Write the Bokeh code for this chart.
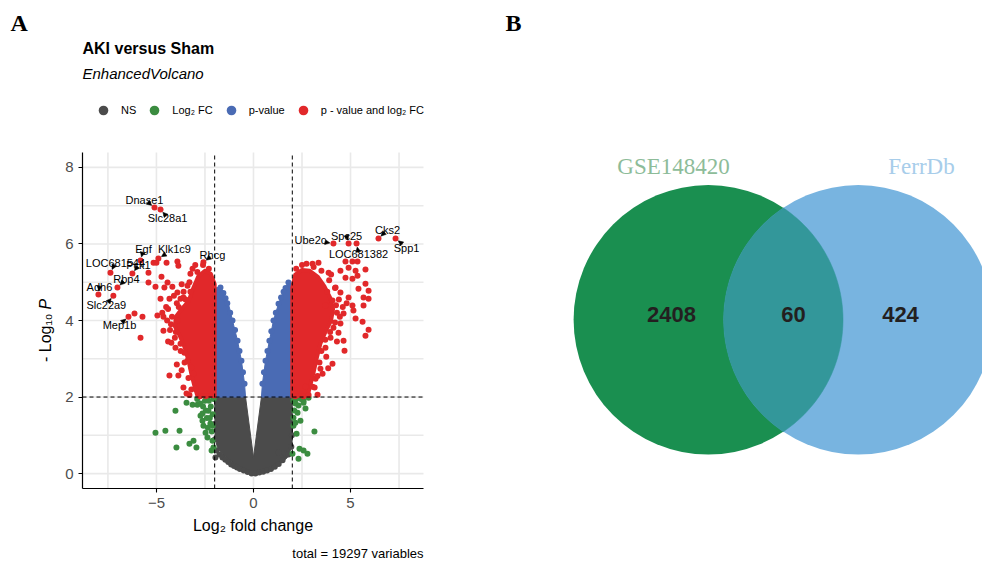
import numpy as np
from bokeh.plotting import figure
from bokeh.models import (Range1d, FixedTicker, Label, Legend, LegendItem,
                          Arrow, NormalHead, ColumnDataSource)
from bokeh.embed import file_html
from bokeh.resources import INLINE
from bokeh.core.properties import value

# ======================= DATA : panel A (volcano) =======================
plot_title = "AKI versus Sham"
plot_subtitle = "EnhancedVolcano"
plot_caption = "total = 19297 variables"
class_labels = ["NS", "Log\u2082 FC", "p-value", "p - value and log\u2082 FC"]
fc_cutoff = 2.0          # |log2 FC|
p_cutoff = 2.0           # -log10 P
x_ticks = [-5, 0, 5]
y_ticks = [0, 2, 4, 6, 8]

# outlines of the dense, fully overlapping point clouds (log2FC, -log10P)
ns_cloud_x = [-2.0, -0.41, 0.0, 0.41, 2.0, 2.0, 1.96, 1.75, 1.39, 0.98, 0.46, 0.0, -0.57, -1.08, -1.55, -1.86, -1.98]
ns_cloud_y = [2.0, 2.0, 0.42, 2.0, 2.0, 0.9, 0.68, 0.42, 0.26, 0.1, 0.02, -0.02, 0.13, 0.29, 0.47, 0.68, 0.94]
pv_cloud_left_x = [-2.0, -2.0, -1.85, -1.7, -1.55, -1.44, -1.29, -1.08, -0.82, -0.62, -0.46, -0.41]
pv_cloud_left_y = [2.0, 4.75, 4.83, 4.87, 4.75, 4.6, 4.44, 4.0, 3.47, 2.95, 2.35, 2.0]
pv_cloud_right_x = [0.41, 0.46, 0.62, 0.82, 1.03, 1.29, 1.55, 1.8, 1.95, 2.0, 2.0]
pv_cloud_right_y = [2.0, 2.35, 2.95, 3.47, 4.0, 4.44, 4.78, 4.99, 4.95, 4.8, 2.0]
sig_cloud_left_x = [-2.0, -2.0, -2.2, -2.5, -2.85, -3.1, -3.35, -3.7, -4.0, -4.05, -3.8, -3.55, -3.35, -3.2, -3.05, -2.9]
sig_cloud_left_y = [2.02, 4.95, 5.22, 5.3, 5.15, 4.85, 4.5, 4.3, 4.1, 3.85, 3.6, 3.3, 2.95, 2.6, 2.3, 2.05]
sig_cloud_right_x = [2.0, 2.0, 2.15, 2.5, 2.9, 3.3, 3.65, 3.95, 4.1, 4.0, 3.75, 3.45, 3.25, 3.1, 2.95, 2.8]
sig_cloud_right_y = [2.02, 4.85, 5.2, 5.32, 5.3, 5.15, 4.9, 4.6, 4.3, 4.0, 3.75, 3.4, 3.0, 2.65, 2.35, 2.05]

# individual points (log2FC, -log10P)
ns_points = [(-1.96, 0.42), (-1.9, 0.6), (-1.75, 0.5), (-1.6, 0.42), (-1.45, 0.36), (-1.3, 0.3),
             (-1.15, 0.24), (-1.0, 0.2), (-0.85, 0.16), (-0.7, 0.12), (-0.5, 0.08), (-0.3, 0.04),
             (-0.1, 0.0), (0.1, 0.0), (0.3, 0.03), (0.5, 0.05), (0.7, 0.08), (0.9, 0.12), (1.1, 0.18),
             (1.3, 0.25), (1.29, 0.55), (1.5, 0.35), (1.65, 0.52), (1.8, 0.5), (1.95, 0.7), (1.98, 1.0),
             (-1.98, 0.9), (-1.98, 1.3)]
pv_points = [(-1.7, 4.86), (-1.85, 4.8), (-1.55, 4.72), (-1.44, 4.58), (-1.35, 4.45), (-1.2, 4.2),
             (-1.08, 4.0), (-0.95, 3.75), (-0.82, 3.47), (-0.72, 3.2), (-0.62, 2.95), (-0.54, 2.65),
             (-0.46, 2.35), (1.8, 4.99), (1.95, 4.9), (1.65, 4.85), (1.55, 4.75), (1.42, 4.6),
             (1.29, 4.44), (1.15, 4.2), (1.03, 4.0), (0.92, 3.72), (0.82, 3.47), (0.72, 3.2),
             (0.62, 2.95), (0.54, 2.65), (0.46, 2.35)]
fc_points = [(-4.02, 1.64), (-3.45, 1.85), (-3.14, 1.8), (-2.89, 1.8), (-5.05, 1.07), (-4.54, 1.12),
             (-3.81, 1.12), (-3.97, 0.68), (-3.3, 0.78), (-3.09, 0.86), (-2.94, 0.68), (-2.73, 1.51),
             (-2.63, 1.38), (-2.58, 1.25), (-2.47, 1.07), (-2.37, 0.94), (-2.22, 1.31), (-2.32, 1.64),
             (-2.11, 0.86), (-2.06, 0.68), (-2.73, 1.83), (-2.63, 1.57), (-2.4, 1.45), (-2.9, 1.95),
             (-2.5, 1.9), (-2.2, 1.75), (-2.1, 1.55), (-2.15, 1.1), (-2.16, 0.6), (-2.3, 1.9),
             (-2.6, 1.75), (-2.05, 1.95), (-2.45, 1.65), (-2.25, 1.45), (-2.35, 1.2), (-2.1, 1.25),
             (2.06, 1.9), (2.32, 1.78), (2.58, 1.9), (2.68, 1.7), (2.27, 1.59), (2.06, 1.46),
             (2.42, 1.38), (2.22, 1.04), (3.14, 1.1), (2.01, 0.52), (2.37, 0.65), (2.58, 0.6),
             (2.78, 0.52), (2.32, 0.39), (2.84, 1.98), (2.06, 1.25), (2.16, 1.83), (2.58, 1.85),
             (2.16, 1.33), (2.1, 1.65), (2.45, 1.95), (2.2, 1.95)]
sig_points = [(-5.41, 5.25), (-5.15, 5.51), (-5.0, 5.51), (-4.48, 5.51), (-3.92, 5.54), (-3.87, 5.43),
              (-5.41, 4.99), (-4.74, 5.14), (-4.43, 4.99), (-5.05, 4.88), (-4.59, 4.86), (-4.79, 4.57),
              (-4.18, 4.88), (-3.92, 4.73), (-3.76, 4.57), (-4.33, 4.57), (-3.25, 5.22), (-2.89, 5.27),
              (-3.4, 4.91), (-3.61, 4.6), (-3.14, 5.35), (-6.13, 4.18), (-5.72, 4.1), (-4.95, 4.13),
              (-4.64, 4.1), (-4.64, 3.73), (-5.82, 3.55), (-4.23, 3.42), (-4.02, 3.29), (-3.76, 3.39),
              (-3.56, 3.16), (-3.4, 2.95), (-3.2, 2.77), (-4.33, 2.56), (-3.87, 2.56), (-3.09, 2.61),
              (-3.61, 2.25), (-3.45, 2.09), (-2.99, 2.22), (-3.3, 2.05), (-2.75, 2.02), (-2.45, 2.03),
              (-3.3, 5.0), (-3.6, 4.75), (-3.95, 4.45), (-4.4, 4.3), (-4.45, 4.0), (-4.3, 3.75),
              (-4.05, 3.55), (-3.75, 3.2), (-3.55, 2.9), (-3.35, 2.5), (-3.2, 2.2), (-3.7, 4.95),
              (-2.6, 5.45), (-2.3, 5.35), (-3.0, 5.45), (-4.1, 4.65), (-4.5, 4.35), (-4.7, 4.2),
              (-4.4, 3.45), (-3.95, 2.85), (-3.7, 2.7), (-4.2, 4.1), (-4.25, 3.9), (-3.9, 4.0),
              (-4.0, 3.7), (-3.85, 4.35), (-3.5, 4.55), (-3.25, 4.75),
              (2.73, 5.48), (3.04, 5.48), (3.35, 5.51), (4.74, 5.54), (5.1, 5.54), (5.36, 5.54),
              (3.87, 5.25), (4.48, 5.3), (4.9, 5.38), (5.26, 5.3), (5.77, 5.33), (4.74, 5.12),
              (5.1, 5.09), (5.36, 5.17), (5.77, 4.96), (5.41, 4.83), (5.93, 4.78), (5.67, 4.6),
              (5.93, 4.57), (4.23, 4.86), (4.48, 4.73), (4.9, 4.6), (5.1, 4.39), (5.67, 4.39),
              (4.07, 4.52), (3.71, 4.39), (5.15, 4.26), (5.26, 4.05), (5.62, 3.97), (5.93, 3.76),
              (5.77, 3.6), (4.64, 4.18), (4.48, 3.92), (4.38, 3.68), (4.64, 3.47), (4.69, 3.21),
              (4.07, 2.87), (3.45, 2.74), (3.56, 2.61), (3.2, 2.48), (3.04, 2.27), (2.68, 2.27),
              (3.3, 2.06), (4.12, 3.81), (3.97, 3.55), (3.71, 3.29), (2.16, 2.02), (2.58, 2.02),
              (2.84, 2.05), (3.5, 5.3), (3.9, 5.05), (4.2, 4.85), (4.4, 4.55), (4.6, 4.35),
              (4.45, 4.1), (4.2, 3.95), (3.95, 3.7), (3.7, 3.5), (3.5, 3.2), (3.4, 2.9), (3.3, 2.55),
              (3.15, 2.25), (2.5, 5.45), (2.2, 5.35), (3.1, 5.4), (4.0, 5.2), (4.8, 4.45),
              (4.3, 3.45), (3.75, 3.05), (3.85, 2.75), (4.3, 4.2), (4.25, 4.4), (3.8, 4.75)]

# labelled genes
gene_names = ["Dnase1", "Slc28a1", "Egf", "Klk1c9", "Rhcg", "LOC681544", "Pck1", "Rbp4",
              "Adh6", "Slc22a9", "Mep1b", "Ube2c", "Spc25", "LOC681382", "Cks2", "Spp1"]
gene_lfc = [-5.10, -4.79, -5.82, -4.90, -2.58, -7.37, -6.24, -7.01,
            -7.99, -7.22, -6.44, 4.12, 4.90, 5.31, 6.44, 7.32]
gene_logp = [6.95, 6.90, 5.57, 5.62, 5.52, 5.25, 5.23, 4.86,
             4.68, 4.65, 4.10, 6.01, 6.01, 6.01, 6.14, 6.14]

# ======================= DATA : panel B (Venn) =======================
set_names = ["GSE148420", "FerrDb"]
region_counts = [2408, 60, 424]          # GSE only, both, FerrDb only

# ======================= STYLE / LAYOUT =======================
FONT = "Liberation Sans"
SERIF = "Liberation Serif"
C_NS, C_FC, C_P, C_SIG = "#4b4b4b", "#3b8c40", "#4a6bb4", "#e1282a"
PT = 6
W, H = 982, 562
# volcano panel area (canvas px) and its data extent
VL, VR_, VT, VB = 82, 423, 152, 488
VX0, VX1 = -8.81, 8.76
VY0, VY1 = -0.39, 8.39
XS = (VR_ - VL) / (VX1 - VX0)
YS = (VB - VT) / (VY1 - VY0)

# gene label offsets in screen px (dx, dy down)
label_offsets = [(-10, -8), (7, 8), (3, -11), (16, -10), (9, -7), (5, -10), (6, -8), (9, -9),
                 (1, -7), (-7, 9), (-9, 8), (-23, -4), (-2, -8), (2, 10), (9, -9), (11, 9)]

p = figure(width=W, height=H,
           x_range=Range1d(VX0 - VL / XS, VX0 + (W - VL) / XS),
           y_range=Range1d(VY0 - (H - VB) / YS, VY1 + VT / YS),
           output_backend="svg", toolbar_location=None, title_location=None,
           min_border=0, min_border_left=0, min_border_right=0,
           min_border_top=0, min_border_bottom=0)
p.extra_x_ranges = {"px": Range1d(0, W)}
p.extra_y_ranges = {"px": Range1d(H, 0)}
p.outline_line_color = None
p.background_fill_color = "white"
p.border_fill_color = "white"
p.grid.visible = False

# axes drawn at the volcano panel edges
xa, ya = p.xaxis[0], p.yaxis[0]
xa.ticker = FixedTicker(ticks=x_ticks)
ya.ticker = FixedTicker(ticks=y_ticks)
xa.fixed_location = VY0
ya.fixed_location = VX0
xa.bounds = (VX0, VX1)
ya.bounds = (VY0, VY1)
for ax in (xa, ya):
    ax.axis_line_color = "black"
    ax.axis_line_width = 1.2
    ax.major_tick_line_color = "black"
    ax.major_tick_line_width = 1.1
    ax.major_tick_out = 4
    ax.major_tick_in = 0
    ax.minor_tick_line_color = None
    ax.major_label_text_font = FONT
    ax.major_label_text_font_size = "15px"
    ax.major_label_text_color = "#4d4d4d"
    ax.major_label_standoff = 5
xa.axis_label = "Log\u2082 fold change"
xa.axis_label_text_font = FONT
xa.axis_label_text_font_size = "16px"
xa.axis_label_text_font_style = "normal"
xa.axis_label_text_color = "black"
xa.axis_label_standoff = 6

# panel grid (restricted to the volcano panel)
gx_ticks = [-7.5, -5, -2.5, 0, 2.5, 5, 7.5]
gy_ticks = list(range(0, 9))
p.segment(x0=gx_ticks, y0=[VY0] * len(gx_ticks), x1=gx_ticks, y1=[VY1] * len(gx_ticks),
          line_color="#e9e9e9", line_width=1.6)
p.segment(x0=[VX0] * len(gy_ticks), y0=gy_ticks, x1=[VX1] * len(gy_ticks), y1=gy_ticks,
          line_color="#e9e9e9", line_width=1.6)


def split(pts):
    return [a for a, b in pts], [b for a, b in pts]


# dense clouds and points
p.patch(ns_cloud_x, ns_cloud_y, fill_color=C_NS, line_color=C_NS, line_width=1)
r_ns = p.scatter(*split(ns_points), size=PT, fill_color=C_NS, line_color=None)
r_fc = p.scatter(*split(fc_points), size=PT, fill_color=C_FC, line_color=None)
p.patch(pv_cloud_left_x, pv_cloud_left_y, fill_color=C_P, line_color=C_P, line_width=1)
p.patch(pv_cloud_right_x, pv_cloud_right_y, fill_color=C_P, line_color=C_P, line_width=1)
r_p = p.scatter(*split(pv_points), size=PT, fill_color=C_P, line_color=None)
p.patch(sig_cloud_left_x, sig_cloud_left_y, fill_color=C_SIG, line_color=C_SIG, line_width=4, line_join="round")
p.patch(sig_cloud_right_x, sig_cloud_right_y, fill_color=C_SIG, line_color=C_SIG, line_width=4, line_join="round")
r_sig = p.scatter(*split(sig_points), size=PT, fill_color=C_SIG, line_color=None)
p.scatter(gene_lfc, gene_logp, size=PT, fill_color=C_SIG, line_color=None)

# cut-off lines
p.segment(x0=[-fc_cutoff, fc_cutoff], y0=[VY0, VY0], x1=[-fc_cutoff, fc_cutoff], y1=[VY1, VY1],
          line_color="black", line_width=1, line_dash="4 3")
p.segment(x0=[VX0], y0=[p_cutoff], x1=[VX1], y1=[p_cutoff],
          line_color="black", line_width=1, line_dash="4 3")

# gene labels + connectors
dx = np.array([o[0] for o in label_offsets], float)
dy = np.array([o[1] for o in label_offsets], float)
norm = np.hypot(dx, dy)
ux, uy = dx / norm, dy / norm
gx, gy = np.array(gene_lfc), np.array(gene_logp)
arrow_src = ColumnDataSource(dict(
    xs=gx + ux * 9 / XS, ys=gy - uy * 9 / YS,
    xe=gx + ux * 3.5 / XS, ye=gy - uy * 3.5 / YS))
p.add_layout(Arrow(source=arrow_src, x_start="xs", y_start="ys", x_end="xe", y_end="ye",
                   line_color="black", line_width=0.5,
                   end=NormalHead(size=5, fill_color="black", line_color="black", line_width=0.5)))
lab_src = ColumnDataSource(dict(x=gene_lfc, y=gene_logp, t=gene_names, dx=dx, dy=dy))
p.text(x="x", y="y", text="t", x_offset="dx", y_offset="dy", source=lab_src,
       text_font=value(FONT), text_font_size="11px", text_color="black",
       text_align="center", text_baseline="middle")

# legend (bottom-left corner given in frame px)
legend = Legend(items=[LegendItem(label=value(class_labels[0]), renderers=[r_ns]),
                       LegendItem(label=value(class_labels[1]), renderers=[r_fc]),
                       LegendItem(label=value(class_labels[2]), renderers=[r_p]),
                       LegendItem(label=value(class_labels[3]), renderers=[r_sig])],
                orientation="horizontal", location=(91, H - 122), padding=0, margin=0, spacing=6,
                label_standoff=6, glyph_width=24, glyph_height=24, label_width=0, label_height=24,
                label_text_font=FONT, label_text_font_size="11px", label_text_color="black",
                border_line_color=None, background_fill_alpha=0)
p.add_layout(legend)


def lab(cx, cy, text, **kw):
    # cx, cy: canvas px from top-left
    base = dict(x=cx, y=H - cy, x_units="screen", y_units="screen", text=text,
                text_font=FONT, text_baseline="middle", text_align="left", text_color="black")
    base.update(kw)
    p.add_layout(Label(**base))


lab(10, 22, "A", text_font=SERIF, text_font_style="bold", text_font_size="24px")
lab(82, 48, plot_title, text_font_style="bold", text_font_size="16px")
lab(82, 73, plot_subtitle, text_font_style="italic", text_font_size="15px")
lab(423, 553, plot_caption, text_align="right", text_font_size="13px")
lab(45, 309, "P", text_font_style="italic", text_font_size="16px", angle=np.pi / 2)
lab(45, 313, "- Log\u2081\u2080", text_align="right", text_font_size="16px", angle=np.pi / 2)

# ======================= PANEL B (Venn, canvas-px coordinates) =======================
VC_X = [707.8, 857.8]
VC_Y = 319.3
VRAD = 134.7
VENN_COLORS = ["#1a8f50", "#78b4e0"]
LENS_COLOR = "#33979a"
p.circle(x=VC_X, y=[VC_Y, VC_Y], radius=VRAD, fill_color=VENN_COLORS, line_color=None,
         x_range_name="px", y_range_name="px")
d = VC_X[1] - VC_X[0]
th = np.arccos((d / 2) / VRAD)
t1 = np.linspace(-th, th, 80)
t2 = np.linspace(np.pi - th, np.pi + th, 80)
lens_x = np.concatenate([VC_X[0] + VRAD * np.cos(t1), VC_X[1] + VRAD * np.cos(t2)])
lens_y = np.concatenate([VC_Y + VRAD * np.sin(t1), VC_Y + VRAD * np.sin(t2)])
p.patch(lens_x, lens_y, fill_color=LENS_COLOR, line_color=LENS_COLOR, line_width=0.5,
        x_range_name="px", y_range_name="px")

p.text(x=[671, 793, 900], y=[314, 314, 314], text=[str(c) for c in region_counts],
       text_font=value(FONT), text_font_style="bold", text_font_size="22px",
       text_color="#231f20", text_align="center", text_baseline="middle",
       x_range_name="px", y_range_name="px")
p.text(x=[673, 921], y=[166, 166], text=set_names, text_font=value(SERIF),
       text_font_size="23px", text_color=["#8dbc99", "#a7cdea"],
       text_align="center", text_baseline="middle",
       x_range_name="px", y_range_name="px")
lab(505, 22, "B", text_font=SERIF, text_font_style="bold", text_font_size="24px")

open("out.html", "w").write(file_html(p, INLINE))
